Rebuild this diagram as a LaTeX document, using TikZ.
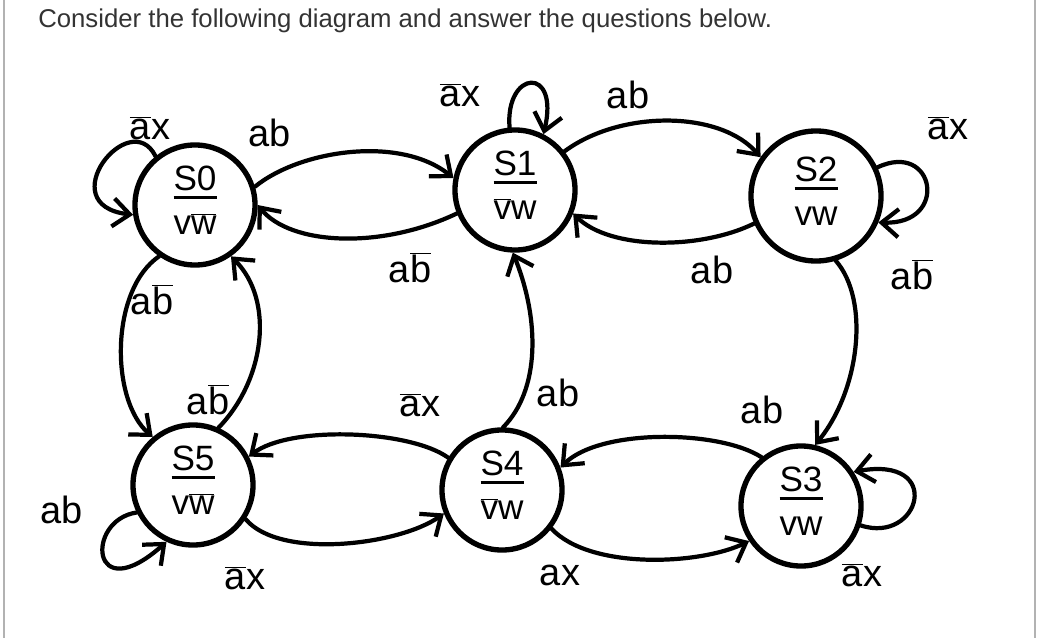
\documentclass[tikz,border=0pt]{standalone}
\usepackage{fontspec}
\setmainfont{Liberation Sans}
\usepackage{xcolor}
\usepackage{tikz}
\usetikzlibrary{arrows.meta}

\newcommand{\ov}[1]{\ensuremath{\overline{\mbox{#1}}}}
\newcommand{\sttext}[2]{\raisebox{-5pt}{\begin{tabular}{@{}c@{}}#1\\[-4pt]\noalign{\hrule height 2.6pt}\rule{0pt}{25pt}#2\end{tabular}}}

\begin{document}
\begin{tikzpicture}[x=0.025cm, y=-0.025cm,
    state/.style={circle, draw, line width=3.8pt, minimum size=3cm, inner sep=0pt, font=\fontsize{25}{26}\selectfont},
    arrow/.style={-{Straight Barb[length=12pt,width=20pt]}, line width=3pt, line cap=round},
    lbl/.style={font=\fontsize{27}{28}\selectfont},
    frame/.style={gray!60, line width=1.5pt}]

\useasboundingbox (0,0) rectangle (1044,638);
\draw[frame] (4,0) -- (4,638);
\draw[frame] (1035,0) -- (1035,638);

% Question
\node[anchor=base west, font=\fontsize{18.3}{20}\selectfont, text=black!80, inner sep=0pt] (title) at (38,27) {Consider the following diagram and answer the questions below.};

% States
\node[state] (s0) at (195,205) {\sttext{S0}{v\ov{w}}};
\node[state] (s1) at (515,190) {\sttext{S1}{\ov{v}w}};
\node[state, minimum size=3.25cm] (s2) at (816,196) {\sttext{S2}{vw}};
\node[state] (s3) at (801,506) {\sttext{S3}{vw}};
\node[state] (s4) at (502,490) {\sttext{S4}{\ov{v}w}};
\node[state] (s5) at (193,485) {\sttext{S5}{v\ov{w}}};

% Top row
\draw[arrow] (s0.129) .. controls (130,105) and (50,205) .. (s0.189);
\draw[arrow] (s0.17) .. controls (300,150) and (400,135) .. (s1.169);
\draw[arrow] (s1.202) .. controls (380,250) and (290,245) .. (s0.0);
\draw[arrow] (s1.95) .. controls (505,70) and (560,65) .. (s1.63);
\draw[arrow] (s1.38) .. controls (620,110) and (720,110) .. (s2.145);
\draw[arrow] (s2.204) .. controls (700,250) and (610,250) .. (s1.338);
\draw[arrow] (s2.25) .. controls (935,140) and (950,225) .. (s2.337);

% Verticals
\draw[arrow] (s2.287) .. controls (870,300) and (860,390) .. (s3.77);
\draw[arrow] (s4.89) .. controls (540,390) and (540,320) .. (s1.268);
\draw[arrow] (s5.66) .. controls (265,380) and (275,300) .. (s0.305);
\draw[arrow] (s0.235) .. controls (110,290) and (110,400) .. (s5.130);

% Bottom row
\draw[arrow] (s3.342) .. controls (920,545) and (945,455) .. (s3.33);
\draw[arrow] (s3.129) .. controls (720,430) and (600,428) .. (s4.21);
\draw[arrow] (s4.322) .. controls (590,570) and (700,565) .. (s3.214);
\draw[arrow] (s4.149) .. controls (410,430) and (290,425) .. (s5.27);
\draw[arrow] (s5.327) .. controls (280,560) and (400,545) .. (s4.202);
\draw[arrow] (s5.206) .. controls (85,520) and (90,610) .. (s5.245);

% Labels
\node[lbl] (l00) at (150,128) {\ov{a}x};
\node[lbl] (l01) at (270,133) {ab};
\node[lbl] (l10) at (410,268) {a\ov{b}};
\node[lbl] (l11) at (460,95) {\ov{a}x};
\node[lbl] (l12) at (628,95) {ab};
\node[lbl] (l21) at (712,270) {ab};
\node[lbl] (l22) at (948,128) {\ov{a}x};
\node[lbl] (l23) at (912,275) {a\ov{b}};
\node[lbl] (l33) at (862,575) {\ov{a}x};
\node[lbl] (l34) at (762,410) {ab};
\node[lbl] (l43) at (560,575) {ax};
\node[lbl] (l41) at (558,393) {ab};
\node[lbl] (l45) at (420,405) {\ov{a}x};
\node[lbl] (l54) at (245,578) {\ov{a}x};
\node[lbl] (l50) at (208,400) {a\ov{b}};
\node[lbl] (l05) at (152,300) {a\ov{b}};
\node[lbl] (l55) at (62,510) {ab};

\end{tikzpicture}
\end{document}
